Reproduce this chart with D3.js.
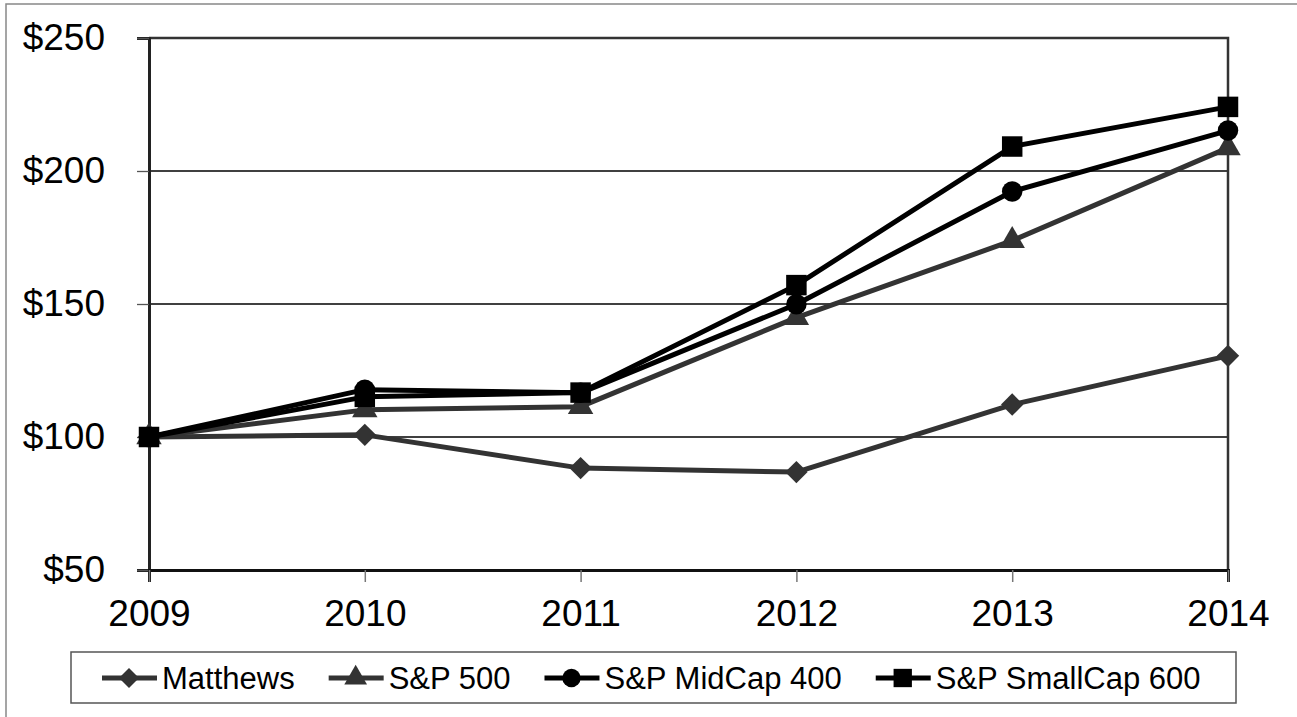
<!DOCTYPE html>
<html>
<head>
	<title>cumulative-return</title>
	<meta charset="utf-8">
	<style type="text/css">
		body { margin: 0; background: #fff; }
		text { font-family: "Liberation Sans", Arial, sans-serif; fill: #000; }
	</style>
</head>
<body>

<script type="text/javascript" src="https://cdn.jsdelivr.net/npm/d3@7"></script>
<script type="text/javascript">
	/*=========DATA=========*/
	var years = ["2009", "2010", "2011", "2012", "2013", "2014"];
	var yTicks = [50, 100, 150, 200, 250];
	var seriesNames = ["Matthews", "S&P 500", "S&P MidCap 400", "S&P SmallCap 600"];
	var matthews = [100, 100.8, 88.3, 86.8, 112.2, 130.5];
	var sp500 = [100, 110.2, 111.4, 144.9, 173.8, 208.7];
	var midcap400 = [100, 117.8, 116.6, 149.9, 192.3, 215.2];
	var smallcap600 = [100, 115.1, 116.7, 157.1, 209.2, 224.1];

	var seriesValues = [matthews, sp500, midcap400, smallcap600];
	var seriesColor = ["#333333", "#333333", "#000000", "#000000"];
	var seriesSymbol = [d3.symbolDiamond2, d3.symbolTriangle, d3.symbolCircle, d3.symbolSquare];
	var symbolSize = [320, 280, 330, 420];

	/*=====SIZE SVG======*/
	var w = 1297;
	var h = 717;
	var svg = d3.select("body").append("svg").attr("width", w).attr("height", h);

	// outer frame
	svg.append("rect")
		.attr("x", 6).attr("y", 4)
		.attr("width", w + 10).attr("height", h + 10)
		.attr("fill", "none").attr("stroke", "#888").attr("stroke-width", 1.5);

	/*=========SCALES=========*/
	var plotL = 149, plotR = 1228, plotT = 38, plotB = 570;
	var x = d3.scalePoint().domain(years).range([plotL, plotR]);
	var y = d3.scaleLinear().domain([50, 250]).range([plotB, plotT]);

	// gridlines
	svg.append("g").selectAll("line")
		.data(yTicks.slice(1, -1))
		.enter().append("line")
		.attr("x1", plotL).attr("x2", plotR)
		.attr("y1", function(d){ return y(d); })
		.attr("y2", function(d){ return y(d); })
		.attr("stroke", "#000").attr("stroke-width", 1.3);

	// top / right frame of the plot
	svg.append("path")
		.attr("d", "M" + plotL + "," + plotT + "H" + plotR + "V" + plotB)
		.attr("fill", "none").attr("stroke", "#333").attr("stroke-width", 2.5);

	// y axis
	var yAxis = svg.append("g")
		.attr("transform", "translate(" + plotL + ",0)")
		.call(d3.axisLeft(y).tickValues(yTicks).tickSize(12).tickPadding(32)
			.tickFormat(function(d){ return "$" + d; }));
	yAxis.select(".domain").attr("stroke", "#222").attr("stroke-width", 3);
	yAxis.selectAll(".tick line").attr("stroke", "#555").attr("stroke-width", 1.3);
	yAxis.selectAll("text").attr("font-size", 37).attr("fill", "#000")
		.style("font-family", "'Liberation Sans', Arial, sans-serif");

	// x axis
	var xAxis = svg.append("g")
		.attr("transform", "translate(0," + plotB + ")")
		.call(d3.axisBottom(x).tickSize(12).tickPadding(18));
	xAxis.select(".domain").attr("stroke", "#111").attr("stroke-width", 3);
	xAxis.selectAll(".tick line").attr("stroke", "#777").attr("stroke-width", 1.5);
	xAxis.selectAll("text").attr("font-size", 37).attr("fill", "#000")
		.style("font-family", "'Liberation Sans', Arial, sans-serif");

	/*=========LINES=========*/
	var line = d3.line()
		.x(function(d, i){ return x(years[i]); })
		.y(function(d){ return y(d); });

	var groups = svg.selectAll("g.series")
		.data(seriesValues)
		.enter()
		.append("g")
		.attr("class", "series");

	groups.append("path")
		.attr("d", line)
		.attr("fill", "none")
		.attr("stroke", function(d, i){ return seriesColor[i]; })
		.attr("stroke-width", 5)
		.attr("stroke-linejoin", "round");

	groups.each(function(vals, si){
		d3.select(this).selectAll("path.pt")
			.data(vals)
			.enter().append("path")
			.attr("class", "pt")
			.attr("transform", function(d, i){ return "translate(" + x(years[i]) + "," + y(d) + ")"; })
			.attr("d", d3.symbol().type(seriesSymbol[si]).size(symbolSize[si]))
			.attr("fill", seriesColor[si]);
	});

	/*=========LEGEND=========*/
	var legend = svg.append("g");
	legend.append("rect")
		.attr("x", 71).attr("y", 652)
		.attr("width", 1165).attr("height", 51)
		.attr("fill", "#fff").attr("stroke", "#555").attr("stroke-width", 1.5);

	var lx = 102, ly = 678;
	seriesNames.forEach(function(name, i){
		legend.append("line")
			.attr("x1", lx).attr("x2", lx + 55)
			.attr("y1", ly).attr("y2", ly)
			.attr("stroke", seriesColor[i]).attr("stroke-width", 5);
		legend.append("path")
			.attr("transform", "translate(" + (lx + 27) + "," + ly + ")")
			.attr("d", d3.symbol().type(seriesSymbol[i]).size(symbolSize[i] * 0.8))
			.attr("fill", seriesColor[i]);
		var t = legend.append("text")
			.attr("x", lx + 60).attr("y", ly + 11)
			.attr("font-size", 31)
			.text(name);
		lx = lx + 60 + t.node().getComputedTextLength() + 34;
	});
</script>
</body>
</html>
